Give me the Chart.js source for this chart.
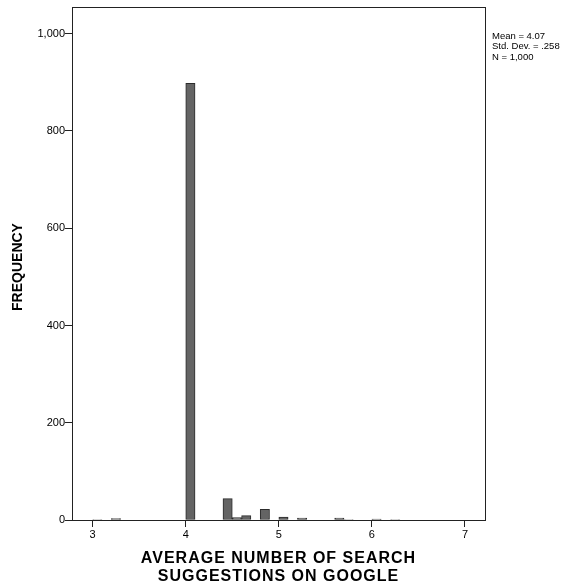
<!DOCTYPE html>
<html>
<head>
<meta charset="utf-8">
<script src="https://cdn.jsdelivr.net/npm/chart.js@4.4.1/dist/chart.umd.min.js"></script>
<style>
  html, body { margin: 0; padding: 0; background: #fff; }
  #wrap { width: 576px; height: 586px; position: relative; }
</style>
</head>
<body>
<div id="wrap"><canvas id="histChart"></canvas></div>
<script>
// histogram bins (start of each 0.1 bin) and their counts
const binWidth = 0.1;
const binStarts = [3.0, 3.2, 4.0, 4.4, 4.5, 4.6, 4.8, 5.0, 5.2, 5.6, 5.7, 6.0, 6.2];
const frequencies = [1, 3, 898, 44, 5, 9, 22, 6, 4, 4, 1, 2, 1];
const xTicks = [3, 4, 5, 6, 7];
const yTicks = [0, 200, 400, 600, 800, 1000];
const statsLines = ['Mean = 4.07', 'Std. Dev. = .258', 'N = 1,000'];
const xTitleLines = ['AVERAGE NUMBER OF SEARCH', 'SUGGESTIONS ON GOOGLE'];
const yTitle = 'FREQUENCY';

const FONT = "'Liberation Sans', Arial, sans-serif";

// frame, axis titles and the stats box
const decorations = {
    id: 'decorations',
    afterDraw(chart) {
        const { ctx, chartArea: a } = chart;
        ctx.save();
        ctx.strokeStyle = '#222';
        ctx.lineWidth = 1;
        ctx.strokeRect(Math.round(a.left) + 0.5, Math.round(a.top) + 0.5,
            Math.round(a.right - a.left), Math.round(a.bottom - a.top));

        ctx.fillStyle = '#000';
        ctx.font = 'bold 16px ' + FONT;
        ctx.letterSpacing = '1px';
        ctx.textAlign = 'center';
        ctx.textBaseline = 'middle';
        const cx = (a.left + a.right) / 2;
        ctx.fillText(xTitleLines[0], cx, 559);
        ctx.fillText(xTitleLines[1], cx, 577);
        ctx.letterSpacing = '0px';

        ctx.save();
        ctx.translate(18, 267);
        ctx.rotate(-Math.PI / 2);
        ctx.font = 'bold 14px ' + FONT;
        ctx.fillText(yTitle, 0, 0);
        ctx.restore();

        ctx.font = '9.5px ' + FONT;
        ctx.textAlign = 'left';
        statsLines.forEach((t, i) => ctx.fillText(t, a.right + 7, 36 + i * 10.5));
        ctx.restore();
    }
};

new Chart(document.getElementById('histChart'), {
    type: 'bar',
    data: {
        datasets: [{
            data: binStarts.map((s, i) => ({ x: s + binWidth / 2, y: frequencies[i] })),
            backgroundColor: '#646464',
            borderColor: '#2b2b2b',
            borderWidth: 1,
            borderSkipped: false,
            barPercentage: 1,
            categoryPercentage: 1
        }]
    },
    options: {
        responsive: true,
        maintainAspectRatio: false,
        animation: false,
        devicePixelRatio: 1,
        layout: { padding: { top: 7, right: 91, left: 0, bottom: 0 } },
        plugins: { legend: { display: false }, tooltip: { enabled: false } },
        scales: {
            x: {
                type: 'linear',
                min: 2.778,
                max: 7.215,
                offset: false,
                afterBuildTicks: s => { s.ticks = xTicks.map(v => ({ value: v })); },
                afterFit: s => { s.height = 66; },
                ticks: { color: '#000', font: { size: 11, family: FONT }, padding: 1, maxRotation: 0 },
                grid: { drawOnChartArea: false, offset: false, tickLength: 7, color: '#222' },
                border: { display: false }
            },
            y: {
                min: 0,
                max: 1055,
                afterBuildTicks: s => { s.ticks = yTicks.map(v => ({ value: v })); },
                afterFit: s => { s.width = 72; },
                ticks: {
                    color: '#000', font: { size: 11, family: FONT }, padding: 0,
                    callback: v => v.toLocaleString('en-US')
                },
                grid: { drawOnChartArea: false, tickLength: 7, color: '#222' },
                border: { display: false }
            }
        }
    },
    plugins: [decorations]
});
</script>
</body>
</html>
